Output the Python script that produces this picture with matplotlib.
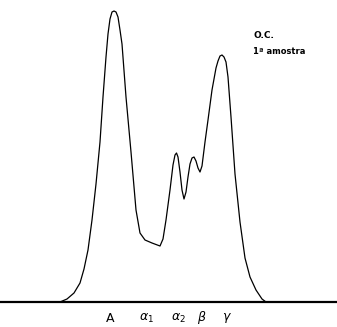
import numpy as np
import matplotlib.pyplot as plt

# densitometric trace of the electrophoresis strip (position, height above baseline)
pos = [0, 60, 67, 74, 80, 84, 88, 92, 96, 100, 103, 106, 108, 110, 112, 114, 116,
       118, 120, 122, 126, 131, 136, 140, 145, 152, 160, 163, 166, 170, 173, 175,
       176.5, 178, 180, 182, 184, 186, 188, 190, 192, 194, 196, 198, 200, 202, 205,
       208, 212, 216, 218, 220, 222, 224, 226, 228, 231, 235, 240, 245, 250, 256,
       262, 266, 337]
height = [0, 0, 3, 9, 19, 33, 52, 82, 118, 160, 205, 245, 268, 283, 290, 291, 290,
          285, 272, 258, 205, 150, 92, 69, 62, 59, 56, 63, 82, 112, 137, 147,
          149, 145, 130, 112, 103, 110, 125, 138, 144, 145, 141, 134, 130, 136, 160,
          182, 212, 234, 241, 246, 247, 245, 240, 225, 185, 128, 80, 44, 25, 12,
          3, 0, 0]

labels = ['A', r'$\alpha_1$', r'$\alpha_2$', r'$\beta$', r'$\gamma$']
label_pos = [110, 146, 178, 202, 227]

fig = plt.figure(figsize=(3.37, 3.27), dpi=100)
ax = fig.add_axes([0, 0, 1, 1])
ax.plot(pos, height, color='black', lw=0.9, solid_joinstyle='round')
ax.axhline(0, color='black', lw=1.6)

for x, s in zip(label_pos, labels):
    ax.text(x, -16, s, ha='center', va='center', fontsize=9)

ax.text(253, 267, 'O.C.', ha='left', va='center', fontsize=6.5, fontweight='bold')
ax.text(253, 250, '1ª amostra', ha='left', va='center', fontsize=6, fontweight='bold')

ax.set_xlim(0, 337)
ax.set_ylim(-25, 302)
ax.axis('off')
fig.savefig('out.png', dpi=100, facecolor='white')
